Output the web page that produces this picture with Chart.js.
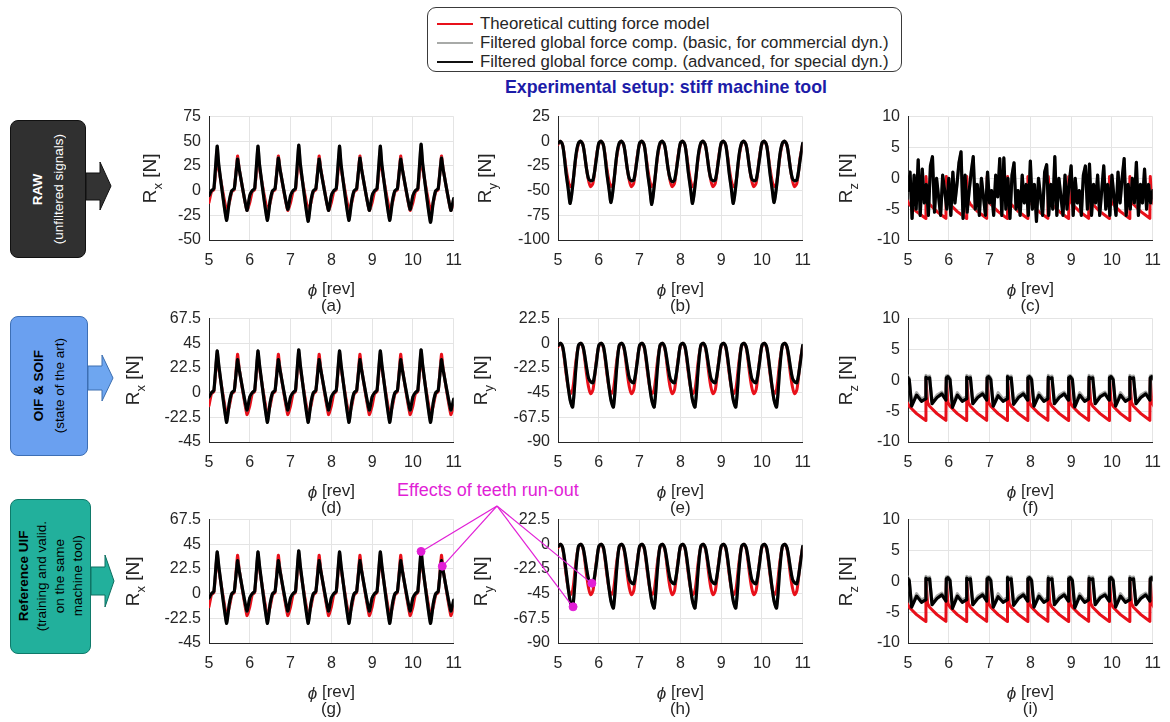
<!DOCTYPE html>
<html>
<head>
<meta charset="utf-8">
<script src="https://cdn.jsdelivr.net/npm/chart.js@4.4.0/dist/chart.umd.min.js"></script>
<style>
  body { margin: 0; background: #fff; font-family: "Liberation Sans", Arial, sans-serif; }
  #page { position: relative; width: 1170px; height: 722px; overflow: hidden; }
  canvas.panel { position: absolute; }
  .legend { position: absolute; left: 427px; top: 7px; width: 473px; height: 63px;
    border: 1.5px solid #3a3a3a; border-radius: 9px; }
  .legend .row { position: absolute; left: 9px; height: 19px; line-height: 19px;
    font-size: 16.8px; color: #262626; white-space: nowrap; }
  .legend .sw { display: inline-block; width: 36px; height: 0; border-top: 2px solid;
    vertical-align: middle; margin-right: 7px; position: relative; top: -1px; }
  .setup { position: absolute; left: 416px; width: 500px; top: 77px; text-align: center;
    font-weight: bold; font-size: 17.8px; color: #1c1ca8; }
  .box { position: absolute; border-radius: 8px; display: flex; align-items: center;
    justify-content: center; box-sizing: border-box; }
  .box .txt { writing-mode: vertical-rl; transform: rotate(180deg); text-align: center;
    font-size: 13.5px; white-space: nowrap; }
  .runout { position: absolute; left: 397px; top: 480px; font-size: 18px; color: #e11fd6;
    white-space: nowrap; }
  #annot { position: absolute; left: 0; top: 0; z-index: 5; }
</style>
</head>
<body>
<div id="page">
  <div class="legend">
    <div class="row" style="top:6px"><span class="sw" style="border-color:#e8101a"></span>Theoretical cutting force model</div>
    <div class="row" style="top:25px"><span class="sw" style="border-color:#a8aaa8"></span>Filtered global force comp. (basic, for commercial dyn.)</div>
    <div class="row" style="top:44px"><span class="sw" style="border-color:#111"></span>Filtered global force comp. (advanced, for special dyn.)</div>
  </div>
  <div class="setup">Experimental setup: stiff machine tool</div>

  <div class="box" style="left:10px;top:120px;width:76px;height:138px;background:#303030;border:1px solid #111;color:#fff">
    <div class="txt" style="line-height:21px"><b>RAW</b><br>(unfiltered signals)</div>
  </div>
  <div class="box" style="left:10px;top:316px;width:78px;height:140px;background:#6aa0f0;border:1px solid #3d6fb5;color:#000">
    <div class="txt" style="line-height:21px"><b>OIF &amp; SOIF</b><br>(state of the art)</div>
  </div>
  <div class="box" style="left:10px;top:499px;width:81px;height:155px;background:#22b09c;border:1px solid #0f7a6a;color:#000">
    <div class="txt" style="line-height:18px"><b>Reference UIF</b><br>(training and valid.<br>on the same<br>machine tool)</div>
  </div>
  <svg style="position:absolute;left:0;top:0" width="130" height="722">
    <polygon points="86,173 100,173 100,162 111,186 100,210 100,200 86,200" fill="#333" stroke="#111" stroke-width="1"/>
    <polygon points="88,366 102,366 102,355 113,378 102,401 102,390 88,390" fill="#6ea6f0" stroke="#3d6fb0" stroke-width="1"/>
    <polygon points="91,567 105,567 105,555 114,581 105,607 105,595 91,595" fill="#22b09c" stroke="#0e6e60" stroke-width="1"/>
  </svg>

  <div class="runout">Effects of teeth run-out</div>
  <svg id="annot" width="1170" height="722"></svg>
</div>

<script>
// ---- data ----
const X_TICKS = [5, 6, 7, 8, 9, 10, 11];
const RX_RAW_TICKS = [-50, -25, 0, 25, 50, 75];
const RY_RAW_TICKS = [-100, -75, -50, -25, 0, 25];
const RZ_TICKS = [-10, -5, 0, 5, 10];
const RX_FILT_TICKS = [-45, -22.5, 0, 22.5, 45, 67.5];
const RY_FILT_TICKS = [-90, -67.5, -45, -22.5, 0, 22.5];

// Rx : angle samples [rev]
const RX_X = [
  5, 5.06, 5.12, 5.2, 5.24, 5.43, 5.5, 5.56, 5.62, 5.7, 5.74, 5.93,
  6, 6.06, 6.12, 6.2, 6.24, 6.43, 6.5, 6.56, 6.62, 6.7, 6.74, 6.93,
  7, 7.06, 7.12, 7.2, 7.24, 7.43, 7.5, 7.56, 7.62, 7.7, 7.74, 7.93,
  8, 8.06, 8.12, 8.2, 8.24, 8.43, 8.5, 8.56, 8.62, 8.7, 8.74, 8.93,
  9, 9.06, 9.12, 9.2, 9.24, 9.43, 9.5, 9.56, 9.62, 9.7, 9.74, 9.93,
  10, 10.06, 10.12, 10.2, 10.24, 10.43, 10.5, 10.56, 10.62, 10.7, 10.74, 10.93,
  11
];
const RX_RED = [
  -12, -1, 1, 35, 22, -20, -12, -1, 1, 35, 22, -20,
  -12, -1, 1, 35, 22, -20, -12, -1, 1, 35, 22, -20,
  -12, -1, 1, 35, 22, -20, -12, -1, 1, 35, 22, -20,
  -12, -1, 1, 35, 22, -20, -12, -1, 1, 35, 22, -20,
  -12, -1, 1, 35, 22, -20, -12, -1, 1, 35, 22, -20,
  -12, -1, 1, 35, 22, -20, -12, -1, 1, 35, 22, -20,
  -12
];
const RX_RAW_BLACK = [
  -5, 0, 2, 45, 26, -30, -10, 0, 2, 32, 22, -20,
  -5, 0, 2, 45, 26, -30, -10, 0, 2, 33, 22, -19,
  -5, 0, 2, 46, 27, -31, -10, 0, 2, 32, 21, -20,
  -5, 0, 2, 45, 26, -30, -10, 0, 2, 33, 22, -20,
  -5, 0, 2, 45, 26, -30, -10, 0, 2, 32, 22, -19,
  -5, 0, 2, 47, 27, -32, -11, 0, 2, 33, 22, -20,
  -8
];
const RX_FILT_BLACK = [
  -4, 0, 2, 38, 25, -27, -9, 0, 2, 30, 21, -16,
  -4, 0, 2, 38, 25, -27, -9, 0, 2, 30, 21, -16,
  -4, 0, 2, 39, 25, -27, -9, 0, 2, 30, 21, -16,
  -4, 0, 2, 38, 25, -27, -9, 0, 2, 30, 21, -16,
  -4, 0, 2, 38, 25, -27, -9, 0, 2, 30, 21, -16,
  -4, 0, 2, 39, 25, -27, -9, 0, 2, 30, 21, -16,
  -6
];

// Ry
const RY_X = [
  5, 5.06, 5.12, 5.2, 5.25, 5.3, 5.36, 5.44, 5.5, 5.56, 5.62, 5.7, 5.75, 5.8, 5.86, 5.94,
  6, 6.06, 6.12, 6.2, 6.25, 6.3, 6.36, 6.44, 6.5, 6.56, 6.62, 6.7, 6.75, 6.8, 6.86, 6.94,
  7, 7.06, 7.12, 7.2, 7.25, 7.3, 7.36, 7.44, 7.5, 7.56, 7.62, 7.7, 7.75, 7.8, 7.86, 7.94,
  8, 8.06, 8.12, 8.2, 8.25, 8.3, 8.36, 8.44, 8.5, 8.56, 8.62, 8.7, 8.75, 8.8, 8.86, 8.94,
  9, 9.06, 9.12, 9.2, 9.25, 9.3, 9.36, 9.44, 9.5, 9.56, 9.62, 9.7, 9.75, 9.8, 9.86, 9.94,
  10, 10.06, 10.12, 10.2, 10.25, 10.3, 10.36, 10.44, 10.5, 10.56, 10.62, 10.7, 10.75, 10.8, 10.86, 10.94,
  11
];
const RY_RED = [
  -3, 0, -5, -28, -40, -46, -42, -16, -3, 0, -5, -28, -40, -46, -42, -16,
  -3, 0, -5, -28, -40, -46, -42, -16, -3, 0, -5, -28, -40, -46, -42, -16,
  -3, 0, -5, -28, -40, -46, -42, -16, -3, 0, -5, -28, -40, -46, -42, -16,
  -3, 0, -5, -28, -40, -46, -42, -16, -3, 0, -5, -28, -40, -46, -42, -16,
  -3, 0, -5, -28, -40, -46, -42, -16, -3, 0, -5, -28, -40, -46, -42, -16,
  -3, 0, -5, -28, -40, -46, -42, -16, -3, 0, -5, -28, -40, -46, -42, -16,
  -3
];
const RY_RAW_BLACK = [
  -2, 0, -5, -33, -48, -63, -45, -14, -2, 0, -5, -28, -38, -40, -39, -18,
  -2, 0, -5, -33, -48, -62, -45, -14, -2, 0, -5, -28, -38, -40, -39, -18,
  -2, 0, -5, -33, -48, -64, -45, -14, -2, 0, -5, -28, -38, -41, -39, -18,
  -2, 0, -5, -33, -48, -63, -45, -14, -2, 0, -5, -28, -38, -40, -39, -18,
  -2, 0, -5, -33, -48, -63, -45, -14, -2, 0, -5, -28, -38, -40, -39, -18,
  -2, 0, -5, -33, -48, -62, -45, -14, -2, 0, -5, -28, -38, -40, -39, -18,
  -2
];
const RY_FILT_BLACK = [
  -2, 0, -4, -25, -40, -52, -58, -22, -2, 0, -4, -22, -32, -35, -36, -18,
  -2, 0, -4, -25, -40, -52, -58, -22, -2, 0, -4, -22, -32, -35, -36, -18,
  -2, 0, -4, -25, -40, -52, -58, -22, -2, 0, -4, -22, -32, -35, -36, -18,
  -2, 0, -4, -25, -40, -52, -58, -22, -2, 0, -4, -22, -32, -35, -36, -18,
  -2, 0, -4, -25, -40, -52, -58, -22, -2, 0, -4, -22, -32, -35, -36, -18,
  -2, 0, -4, -25, -40, -52, -58, -22, -2, 0, -4, -22, -32, -35, -36, -18,
  -2
];

// Rz (filtered rows and model)
const RZ_X = [
  4.93, 4.94, 4.98, 5.03, 5.09, 5.21, 5.33, 5.43, 5.44, 5.48, 5.53, 5.59, 5.71, 5.83,
  5.93, 5.94, 5.98, 6.03, 6.09, 6.21, 6.33, 6.43, 6.44, 6.48, 6.53, 6.59, 6.71, 6.83,
  6.93, 6.94, 6.98, 7.03, 7.09, 7.21, 7.33, 7.43, 7.44, 7.48, 7.53, 7.59, 7.71, 7.83,
  7.93, 7.94, 7.98, 8.03, 8.09, 8.21, 8.33, 8.43, 8.44, 8.48, 8.53, 8.59, 8.71, 8.83,
  8.93, 8.94, 8.98, 9.03, 9.09, 9.21, 9.33, 9.43, 9.44, 9.48, 9.53, 9.59, 9.71, 9.83,
  9.93, 9.94, 9.98, 10.03, 10.09, 10.21, 10.33, 10.43, 10.44, 10.48, 10.53, 10.59, 10.71, 10.83,
  10.93, 10.94, 10.98, 11.03, 11.09, 11.21, 11.33
];
const RZ_RED = [
  -6.5, 0.3, -3.6, -4.2, -4.6, -5.4, -6.0, -6.5, 0.3, -3.6, -4.2, -4.6, -5.4, -6.0,
  -6.5, 0.3, -3.6, -4.2, -4.6, -5.4, -6.0, -6.5, 0.3, -3.6, -4.2, -4.6, -5.4, -6.0,
  -6.5, 0.3, -3.6, -4.2, -4.6, -5.4, -6.0, -6.5, 0.3, -3.6, -4.2, -4.6, -5.4, -6.0,
  -6.5, 0.3, -3.6, -4.2, -4.6, -5.4, -6.0, -6.5, 0.3, -3.6, -4.2, -4.6, -5.4, -6.0,
  -6.5, 0.3, -3.6, -4.2, -4.6, -5.4, -6.0, -6.5, 0.3, -3.6, -4.2, -4.6, -5.4, -6.0,
  -6.5, 0.3, -3.6, -4.2, -4.6, -5.4, -6.0, -6.5, 0.3, -3.6, -4.2, -4.6, -5.4, -6.0,
  -6.5, 0.3, -3.6, -4.2, -4.6, -5.4, -6.0
];
const RZ_FILT_BLACK = [
  -3.2, 0.4, 0.6, 0.1, -4.2, -2.4, -3.4, -3.0, 0.5, 0.3, 0.4, -3.8, -2.8, -2.2,
  -3.2, 0.4, 0.6, 0.1, -4.4, -2.4, -3.4, -3.0, 0.5, 0.3, 0.4, -3.8, -2.8, -2.2,
  -3.2, 0.4, 0.6, 0.1, -4.2, -2.5, -3.4, -3.0, 0.6, 0.3, 0.4, -3.9, -2.8, -2.2,
  -3.2, 0.4, 0.6, 0.1, -4.2, -2.4, -3.4, -3.0, 0.5, 0.3, 0.4, -3.8, -2.8, -2.2,
  -3.2, 0.4, 0.6, 0.1, -4.3, -2.4, -3.4, -3.0, 0.5, 0.3, 0.4, -3.8, -2.7, -2.2,
  -3.2, 0.4, 0.6, 0.1, -4.2, -2.4, -3.4, -3.0, 0.5, 0.3, 0.4, -3.8, -2.8, -2.2,
  -3.2, 0.4, 0.6, 0.1, -4.2, -2.4, -3.4
];
const RZ_FILT_GRAY = [
  -2.9, 0.7, 0.8, 0.4, -3.9, -2.0, -3.0, -2.7, 0.8, 0.6, 0.7, -3.5, -2.4, -1.9,
  -2.9, 0.7, 0.8, 0.4, -3.9, -2.0, -3.0, -2.7, 0.8, 0.6, 0.7, -3.5, -2.4, -1.9,
  -2.9, 0.7, 0.8, 0.4, -3.9, -2.0, -3.0, -2.7, 0.8, 0.6, 0.7, -3.5, -2.4, -1.9,
  -2.9, 0.7, 0.8, 0.4, -3.9, -2.0, -3.0, -2.7, 0.8, 0.6, 0.7, -3.5, -2.4, -1.9,
  -2.9, 0.7, 0.8, 0.4, -3.9, -2.0, -3.0, -2.7, 0.8, 0.6, 0.7, -3.5, -2.4, -1.9,
  -2.9, 0.7, 0.8, 0.4, -3.9, -2.0, -3.0, -2.7, 0.8, 0.6, 0.7, -3.5, -2.4, -1.9,
  -2.9, 0.7, 0.8, 0.4, -3.9, -2.0, -3.0
];

// Rz raw (noisy)
const RZ_RAW_X = [
  5, 5.05, 5.1, 5.15, 5.2, 5.25, 5.3, 5.35, 5.4, 5.45,
  5.5, 5.55, 5.6, 5.65, 5.7, 5.75, 5.8, 5.85, 5.9, 5.95,
  6, 6.05, 6.1, 6.15, 6.2, 6.25, 6.3, 6.35, 6.4, 6.45,
  6.5, 6.55, 6.6, 6.65, 6.7, 6.75, 6.8, 6.85, 6.9, 6.95,
  7, 7.05, 7.1, 7.15, 7.2, 7.25, 7.3, 7.35, 7.4, 7.45,
  7.5, 7.55, 7.6, 7.65, 7.7, 7.75, 7.8, 7.85, 7.9, 7.95,
  8, 8.05, 8.1, 8.15, 8.2, 8.25, 8.3, 8.35, 8.4, 8.45,
  8.5, 8.55, 8.6, 8.65, 8.7, 8.75, 8.8, 8.85, 8.9, 8.95,
  9, 9.05, 9.1, 9.15, 9.2, 9.25, 9.3, 9.35, 9.4, 9.45,
  9.5, 9.55, 9.6, 9.65, 9.7, 9.75, 9.8, 9.85, 9.9, 9.95,
  10, 10.05, 10.1, 10.15, 10.2, 10.25, 10.3, 10.35, 10.4, 10.45,
  10.5, 10.55, 10.6, 10.65, 10.7, 10.75, 10.8, 10.85, 10.9, 10.95,
  11
];
const RZ_RAW_BLACK = [
  -2, 1, -6.5, 0.5, -5, 3, -6, 1.5, -4, -1,
  -6, 2, 3.5, -5.5, 0, -3, -6, 0.5, -2, -5,
  0, -6, 1, -4, -1, 2.5, 4.3, -6.5, 0.5, -5.5,
  -2, 1, 3.5, -5, -1, -6, 0, -3, -6, 1,
  -4, -2, -6, 0.5, -3, 3.2, -6, 3.3, -5, 0,
  -6.5, 0.5, 2.5, -5, -2, -6, 0.5, -4, -1, -6,
  2.8, -5, -1, -7, 0, -3, -6, 1, 2.2, -6,
  -1, -5, 3.5, -6, 0, -3, -6, 0.5, -5, -1,
  2, -6, 0, -4, -2, -6, 0.5, 2, -5, 2.3,
  -6, -1, -4, 0.5, -6, -2, 2, -5, -1, -6,
  0.5, -3, -6, 1, -4, 0, 3.2, -6, -1, -5,
  0, -4, 2.6, -6, -1, -4, 1.5, -5, -1, -4,
  -2
];

// run-out markers (g) and (h)
const RUNOUT_G_X = [10.2, 10.72];
const RUNOUT_G_Y = [38.5, 25];
const RUNOUT_H_X = [5.37, 5.83];
const RUNOUT_H_Y = [-57, -35.5];

// ---- layout ----
const COL_LEFT = [209, 558, 908];
const ROW_TOP = [117, 319, 520];
const PLOT_W = 245, PLOT_H = 123, Y_AXIS_W = 94, X_AXIS_H = 70, PAD_TOP = 12, PAD_RIGHT = 14, PAD_BOTTOM = 14;
const RED = '#e8101a', GRAY = '#a8aaa8', BLACK = '#000000', MAGENTA = '#e11fd6';
const TXT = '#262626';
const FONT = '"Liberation Sans", "DejaVu Sans", sans-serif';
const ANNOT_FROM = [497, 506];

const axisText = {
  id: 'axisText',
  afterDraw(chart, args, o) {
    const { ctx, chartArea: a } = chart;
    ctx.save();
    ctx.fillStyle = TXT;
    ctx.textBaseline = 'middle';
    ctx.textAlign = 'left';
    // y title: R with subscript, rotated
    ctx.translate(a.left - o.yOff, (a.top + a.bottom) / 2);
    ctx.rotate(-Math.PI / 2);
    const big = '19px ' + FONT, small = '13px ' + FONT;
    ctx.font = big;
    const wR = ctx.measureText('R').width, wN = ctx.measureText(' [N]').width;
    ctx.font = small;
    const wS = ctx.measureText(o.sub).width;
    let x = -(wR + wS + wN) / 2;
    ctx.font = big; ctx.fillText('R', x, 0); x += wR;
    ctx.font = small; ctx.fillText(o.sub, x, 7); x += wS;
    ctx.font = big; ctx.fillText(' [N]', x, 0);
    ctx.restore();

    // x title + caption
    ctx.save();
    ctx.fillStyle = TXT;
    ctx.textBaseline = 'middle';
    ctx.textAlign = 'left';
    const cx = (a.left + a.right) / 2;
    const it = 'italic 17px ' + FONT, rg = '17px ' + FONT;
    ctx.font = it; const wp = ctx.measureText('\u03D5').width;
    ctx.font = rg; const wr = ctx.measureText(' [rev]').width;
    let x0 = cx - (wp + wr) / 2;
    ctx.font = it; ctx.fillText('\u03D5', x0, a.bottom + 51);
    ctx.font = rg; ctx.fillText(' [rev]', x0 + wp, a.bottom + 49);
    ctx.textAlign = 'center';
    ctx.fillText(o.cap, cx, a.bottom + 66);
    ctx.restore();
  }
};

const pts = (xs, ys) => xs.map((x, i) => ({ x: x, y: ys[i] }));
function line(xs, ys, color, w, tension) {
  return { data: pts(xs, ys), borderColor: color, borderWidth: w, pointRadius: 0,
    tension: tension, fill: false, borderJoinStyle: 'round', borderCapStyle: 'round' };
}

const charts = {};
function makePanel(key, col, row, s) {
  const cv = document.createElement('canvas');
  cv.className = 'panel';
  cv.width = Y_AXIS_W + PLOT_W + PAD_RIGHT;
  cv.height = PAD_TOP + PLOT_H + X_AXIS_H + PAD_BOTTOM;
  cv.style.left = (COL_LEFT[col] - Y_AXIS_W) + 'px';
  cv.style.top = (ROW_TOP[row] - PAD_TOP) + 'px';
  document.getElementById('page').appendChild(cv);

  const datasets = [];
  if (s.marks) {
    datasets.push({ data: pts(s.marks[0], s.marks[1]), showLine: false, pointRadius: 4,
      pointBackgroundColor: MAGENTA, pointBorderColor: MAGENTA, borderColor: MAGENTA });
  }
  datasets.push(line(s.bx || s.x, s.black, BLACK, 3.2, s.tension));
  datasets.push(line(s.bx || s.x, s.gray, GRAY, 3, s.tension));
  datasets.push(line(s.x, s.red, RED, 3, s.tension));

  const tickFont = { family: FONT, size: 16 };
  const chart = new Chart(cv, {
    type: 'line',
    data: { datasets: datasets },
    options: {
      responsive: false,
      maintainAspectRatio: false,
      animation: false,
      devicePixelRatio: 1,
      layout: { padding: { top: PAD_TOP, right: PAD_RIGHT, left: 0, bottom: PAD_BOTTOM } },
      plugins: {
        legend: { display: false },
        tooltip: { enabled: false },
        axisText: { sub: s.sub, cap: s.cap, yOff: s.yOff }
      },
      scales: {
        x: {
          type: 'linear', min: 5, max: 11,
          afterBuildTicks: sc => { sc.ticks = X_TICKS.map(v => ({ value: v })); },
          afterFit: sc => { sc.height = X_AXIS_H; },
          grid: { color: '#e4e4e4', drawTicks: false },
          border: { color: TXT, width: 1 },
          ticks: { padding: 11, color: TXT, font: tickFont, maxRotation: 0, autoSkip: false,
            callback: v => String(v) }
        },
        y: {
          type: 'linear', min: s.ticks[0], max: s.ticks[s.ticks.length - 1],
          afterBuildTicks: sc => { sc.ticks = s.ticks.map(v => ({ value: v })); },
          afterFit: sc => { sc.width = Y_AXIS_W; },
          grid: { color: '#e4e4e4', drawTicks: false },
          border: { color: TXT, width: 1 },
          ticks: { padding: 8, color: TXT, font: tickFont, autoSkip: false,
            callback: v => String(v) }
        }
      }
    },
    plugins: [axisText]
  });

  // make the plot area exactly PLOT_W x PLOT_H and pin it to its slot
  for (let k = 0; k < 3; k++) {
    const a = chart.chartArea;
    const dw = PLOT_W - (a.right - a.left), dh = PLOT_H - (a.bottom - a.top);
    if (Math.abs(dw) < 0.5 && Math.abs(dh) < 0.5) break;
    chart.resize(Math.round(chart.width + dw), Math.round(chart.height + dh));
  }
  const a = chart.chartArea;
  chart.$left = COL_LEFT[col] - a.left;
  chart.$top = ROW_TOP[row] - a.top;
  cv.style.left = chart.$left + 'px';
  cv.style.top = chart.$top + 'px';
  charts[key] = chart;
}

// row 1: raw
makePanel('a', 0, 0, { x: RX_X, black: RX_RAW_BLACK, gray: RX_RAW_BLACK, red: RX_RED, ticks: RX_RAW_TICKS, sub: 'x', cap: '(a)', yOff: 58, tension: 0.15 });
makePanel('b', 1, 0, { x: RY_X, black: RY_RAW_BLACK, gray: RY_RAW_BLACK, red: RY_RED, ticks: RY_RAW_TICKS, sub: 'y', cap: '(b)', yOff: 72, tension: 0.3 });
makePanel('c', 2, 0, { x: RZ_X, bx: RZ_RAW_X, black: RZ_RAW_BLACK, gray: RZ_RAW_BLACK, red: RZ_RED, ticks: RZ_TICKS, sub: 'z', cap: '(c)', yOff: 61, tension: 0 });
// row 2: OIF & SOIF
makePanel('d', 0, 1, { x: RX_X, black: RX_FILT_BLACK, gray: RX_FILT_BLACK, red: RX_RED, ticks: RX_FILT_TICKS, sub: 'x', cap: '(d)', yOff: 75, tension: 0.15 });
makePanel('e', 1, 1, { x: RY_X, black: RY_FILT_BLACK, gray: RY_FILT_BLACK, red: RY_RED, ticks: RY_FILT_TICKS, sub: 'y', cap: '(e)', yOff: 76, tension: 0.3 });
makePanel('f', 2, 1, { x: RZ_X, black: RZ_FILT_BLACK, gray: RZ_FILT_GRAY, red: RZ_RED, ticks: RZ_TICKS, sub: 'z', cap: '(f)', yOff: 61, tension: 0 });
// row 3: reference UIF
makePanel('g', 0, 2, { x: RX_X, black: RX_FILT_BLACK, gray: RX_FILT_BLACK, red: RX_RED, ticks: RX_FILT_TICKS, sub: 'x', cap: '(g)', yOff: 75, tension: 0.15, marks: [RUNOUT_G_X, RUNOUT_G_Y] });
makePanel('h', 1, 2, { x: RY_X, black: RY_FILT_BLACK, gray: RY_FILT_BLACK, red: RY_RED, ticks: RY_FILT_TICKS, sub: 'y', cap: '(h)', yOff: 76, tension: 0.3, marks: [RUNOUT_H_X, RUNOUT_H_Y] });
makePanel('i', 2, 2, { x: RZ_X, black: RZ_FILT_BLACK, gray: RZ_FILT_GRAY, red: RZ_RED, ticks: RZ_TICKS, sub: 'z', cap: '(i)', yOff: 61, tension: 0 });

// leader lines for the run-out markers
const svg = document.getElementById('annot');
[['g', RUNOUT_G_X, RUNOUT_G_Y], ['h', RUNOUT_H_X, RUNOUT_H_Y]].forEach(([k, xs, ys]) => {
  const ch = charts[k];
  xs.forEach((xv, i) => {
    const px = ch.$left + ch.scales.x.getPixelForValue(xv);
    const py = ch.$top + ch.scales.y.getPixelForValue(ys[i]);
    const l = document.createElementNS('http://www.w3.org/2000/svg', 'line');
    l.setAttribute('x1', ANNOT_FROM[0]); l.setAttribute('y1', ANNOT_FROM[1]);
    l.setAttribute('x2', px); l.setAttribute('y2', py);
    l.setAttribute('stroke', MAGENTA); l.setAttribute('stroke-width', '1.2');
    svg.appendChild(l);
  });
});
</script>
</body>
</html>
